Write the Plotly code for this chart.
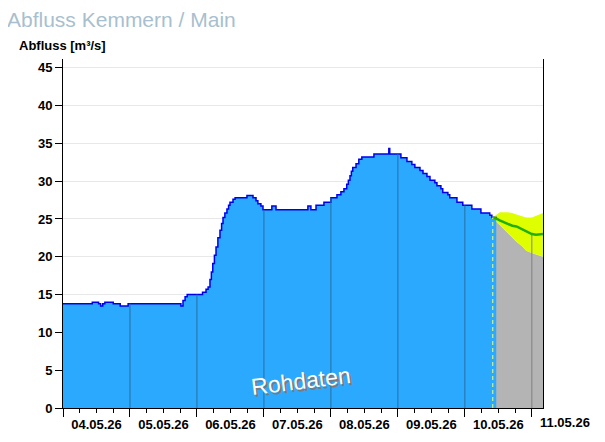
import numpy as np
import pandas as pd
import plotly.graph_objects as go

obs_time = [
    "2026-05-04 00:00", "2026-05-04 10:30", "2026-05-04 12:45", "2026-05-04 13:30",
    "2026-05-04 14:15", "2026-05-04 15:00", "2026-05-04 18:00", "2026-05-04 20:30",
    "2026-05-04 23:20", "2026-05-05 18:15", "2026-05-05 19:00", "2026-05-05 19:45",
    "2026-05-05 20:30", "2026-05-06 02:00", "2026-05-06 03:15", "2026-05-06 04:00",
    "2026-05-06 04:40", "2026-05-06 05:10", "2026-05-06 05:40", "2026-05-06 06:15",
    "2026-05-06 06:50", "2026-05-06 07:30", "2026-05-06 08:15", "2026-05-06 08:50",
    "2026-05-06 09:20", "2026-05-06 10:00", "2026-05-06 10:45", "2026-05-06 11:20",
    "2026-05-06 11:50", "2026-05-06 12:55", "2026-05-06 13:40", "2026-05-06 17:55",
    "2026-05-06 20:05", "2026-05-06 21:10", "2026-05-06 21:50", "2026-05-06 22:55",
    "2026-05-06 23:40", "2026-05-07 02:50", "2026-05-07 04:20", "2026-05-07 15:45",
    "2026-05-07 16:50", "2026-05-07 18:40", "2026-05-07 21:30", "2026-05-08 00:00",
    "2026-05-08 02:10", "2026-05-08 03:35", "2026-05-08 04:40", "2026-05-08 05:40",
    "2026-05-08 06:15", "2026-05-08 06:50", "2026-05-08 07:20", "2026-05-08 07:50",
    "2026-05-08 09:00", "2026-05-08 10:00", "2026-05-08 11:05", "2026-05-08 15:25",
    "2026-05-08 20:45", "2026-05-08 21:05", "2026-05-09 01:05", "2026-05-09 03:15",
    "2026-05-09 05:00", "2026-05-09 06:05", "2026-05-09 07:55", "2026-05-09 09:00",
    "2026-05-09 10:25", "2026-05-09 11:30", "2026-05-09 13:15", "2026-05-09 14:00",
    "2026-05-09 15:25", "2026-05-09 16:05", "2026-05-09 17:55", "2026-05-09 18:35",
    "2026-05-09 21:10", "2026-05-09 23:15", "2026-05-10 02:30", "2026-05-10 05:45",
    "2026-05-10 08:55", "2026-05-10 09:40", "2026-05-10 11:15",
]
obs_flow = [
    13.8, 14.0, 13.8, 13.5,
    13.8, 14.0, 13.8, 13.5,
    13.8, 13.5, 14.2, 14.7,
    15.0, 15.3, 15.7, 16.0,
    17.0, 18.0, 19.1, 20.2,
    21.3, 22.5, 23.5, 24.4,
    25.2, 25.8, 26.3, 26.8,
    27.2, 27.6, 27.8, 28.1,
    27.8, 27.4, 27.0, 26.7,
    26.2, 26.7, 26.2, 26.7,
    26.2, 26.8, 27.2, 27.8,
    28.2, 28.6, 29.0, 29.6,
    30.1, 30.7, 31.3, 31.8,
    32.3, 32.9, 33.2, 33.6,
    34.3, 33.6, 33.1, 32.6,
    32.2, 31.8, 31.4, 31.0,
    30.6, 30.1, 29.8, 29.4,
    29.0, 28.5, 28.2, 27.8,
    27.2, 26.8, 26.3, 25.8,
    25.5, 25.2, 25.0,
]

# forecast with uncertainty band
fc_time = [
    "2026-05-10 10:00", "2026-05-10 11:00", "2026-05-10 12:30", "2026-05-10 15:00",
    "2026-05-10 16:00", "2026-05-10 17:00", "2026-05-10 18:30", "2026-05-10 20:30",
    "2026-05-10 22:00", "2026-05-11 00:00", "2026-05-11 01:30", "2026-05-11 04:00",
]
fc_median = [25.2, 25.1, 24.8, 24.4, 24.2, 24.1, 24.0, 23.6, 23.3, 23.0, 22.9, 23.0]
fc_lower = [25.2, 24.7, 24.2, 23.3, 22.9, 22.5, 22.0, 21.4, 20.8, 20.5, 20.3, 20.0]
fc_upper = [25.2, 25.5, 25.9, 25.9, 25.9, 25.8, 25.6, 25.4, 25.2, 25.2, 25.4, 25.8]

now_time = "2026-05-10 10:00"
day_labels = ["04.05.26", "05.05.26", "06.05.26", "07.05.26",
              "08.05.26", "09.05.26", "10.05.26", "11.05.26"]
y_ticks = [0, 5, 10, 15, 20, 25, 30, 35, 40, 45]

x_start = "2026-05-04 00:00"
x_end = "2026-05-11 04:00"

FONT = "Liberation Sans"

obs_t = pd.to_datetime(obs_time)
fc_t = pd.to_datetime(fc_time)
days = pd.to_datetime(["2026-05-%02d" % d for d in range(4, 12)])
noons = days + pd.Timedelta(hours=12)


def obs_at(t):
    # step lookup in measured data
    idx = np.searchsorted(obs_t.values, t.to_datetime64(), side="right") - 1
    return obs_flow[max(idx, 0)]


def fc_at(t):
    return float(np.interp(t.value, fc_t.asi8, fc_median))


fig = go.Figure()

# forecast: grey below lower bound, yellow band up to upper bound
fig.add_trace(go.Scatter(x=fc_t, y=fc_lower, mode="lines", line=dict(width=0, color="#b4b4b4"),
                         fill="tozeroy", fillcolor="#b4b4b4", hoverinfo="skip"))
fig.add_trace(go.Scatter(x=fc_t, y=fc_upper, mode="lines", line=dict(width=0, color="#dfff00"),
                         fill="tonexty", fillcolor="#dfff00", hoverinfo="skip"))

# measured data
fig.add_trace(go.Scatter(x=obs_t, y=obs_flow, mode="lines", line_shape="hv",
                         line=dict(color="#0000ee", width=1.5),
                         fill="tozeroy", fillcolor="#2ba9ff"))

# day separator lines inside the filled areas
bx, by, gx, gy = [], [], [], []
for d in days[1:]:
    if d <= obs_t[-1] and d < pd.Timestamp(now_time):
        v = obs_at(d)
        bx += [d, d, None]
        by += [0, v, None]
    else:
        v = fc_at(d)
        gx += [d, d, None]
        gy += [0, v, None]
fig.add_trace(go.Scatter(x=bx, y=by, mode="lines", line=dict(color="#2a6e9e", width=1), hoverinfo="skip"))
fig.add_trace(go.Scatter(x=gx, y=gy, mode="lines", line=dict(color="#808080", width=1), hoverinfo="skip"))

# forecast median
fig.add_trace(go.Scatter(x=fc_t, y=fc_median, mode="lines", line=dict(color="#22b000", width=2.5)))

# "now" marker
now = pd.Timestamp(now_time)
fig.add_trace(go.Scatter(x=[now, now], y=[0, obs_at(now)], mode="lines", xaxis="x2",
                         line=dict(color="#eeff77", width=1, dash="4px,3px"), hoverinfo="skip"))

tickfont = dict(family=FONT, size=13, color="black", weight="bold")

# the page body adds 8px on every side, so keep the figure inside the window
fig.update_layout(
    width=589, height=426,
    margin=dict(l=55, r=54, t=51, b=26),
    paper_bgcolor="white", plot_bgcolor="white",
    showlegend=False,
    xaxis=dict(
        type="date", range=[x_start, x_end], automargin=False,
        tickvals=days, ticktext=[""] * len(days),
        ticks="outside", ticklen=8, tickcolor="black",
        showline=True, linecolor="black", linewidth=1,
        showgrid=False, zeroline=False,
        minor=dict(dtick=6 * 3600 * 1000, tick0=x_start, ticks="outside",
                   ticklen=4, tickcolor="black", showgrid=False),
    ),
    xaxis2=dict(
        type="date", overlaying="x", matches="x", anchor="y", side="bottom", automargin=False,
        tickvals=noons, ticktext=day_labels,
        ticks="outside", ticklen=4, tickcolor="rgba(0,0,0,0)",
        tickfont=tickfont, showline=False, showgrid=False, zeroline=False,
    ),
    yaxis=dict(
        range=[0, 46.15], tickvals=y_ticks, automargin=False,
        ticks="outside", ticklen=7, tickcolor="black", tickfont=tickfont,
        showline=True, linecolor="black", linewidth=1, mirror=True,
        showgrid=True, gridcolor="#e8e8e8", zeroline=False,
    ),
)

# last day label sits outside the plotted range
fig.add_annotation(x=(565 - 63) / 480, xref="paper", xanchor="center", y=0, yref="paper",
                   yanchor="top", yshift=-5, text=day_labels[-1], showarrow=False, font=tickfont)

fig.add_annotation(x=(6 - 63) / 480, xref="paper", y=(408 - 19) / 349, yref="paper",
                   xanchor="left", yanchor="middle", borderpad=0,
                   text="Abfluss Kemmern / Main", showarrow=False,
                   font=dict(family=FONT, size=21, color="#a8bfcf"))

fig.add_annotation(x=(17 - 63) / 480, xref="paper", y=(408 - 45) / 349, yref="paper",
                   xanchor="left", yanchor="middle", text="Abfluss [m³/s]", showarrow=False,
                   font=dict(family=FONT, size=13, color="black", weight="bold"))

# "Rohdaten" watermark with shadow
for dx, dy, col in [(2, -2, "#7a7a7a"), (0, 0, "white")]:
    fig.add_annotation(x=(301 - 63) / 480, xref="paper", xanchor="center",
                       y=(408 - 381) / 349, yref="paper", yanchor="middle",
                       xshift=dx, yshift=dy, text="Rohdaten", showarrow=False, textangle=-7,
                       font=dict(family=FONT, size=23, color=col))

fig.write_html("out.html")
